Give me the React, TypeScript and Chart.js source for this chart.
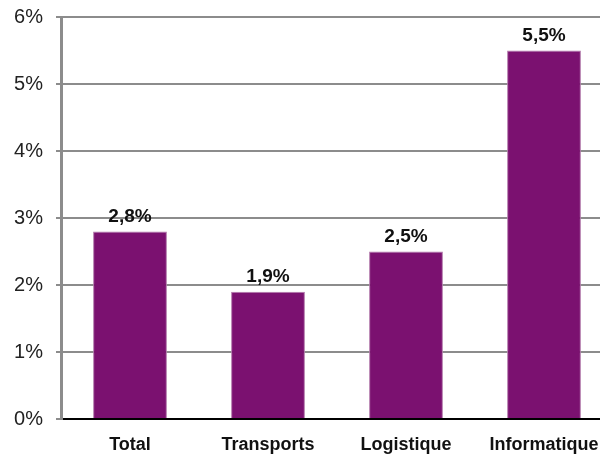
import React, { useEffect, useRef } from "react";
import { Chart, registerables } from "chart.js";

Chart.register(...registerables);

const categories = ["Total", "Transports", "Logistique", "Informatique"];
const values = [2.8, 1.9, 2.5, 5.5];
const yTicks = [0, 1, 2, 3, 4, 5, 6];

const FONT = '"Liberation Sans", Arial, sans-serif';

const valueLabels = {
  id: "valueLabels",
  afterDatasetsDraw(chart: any) {
    const ctx = chart.ctx;
    const meta = chart.getDatasetMeta(0);
    ctx.save();
    ctx.font = `bold 19px ${FONT}`;
    ctx.fillStyle = "#111111";
    ctx.textAlign = "center";
    ctx.textBaseline = "bottom";
    meta.data.forEach((bar: any, i: number) => {
      const v = values[i];
      const txt = v.toFixed(1).replace(".", ",") + "%";
      ctx.fillText(txt, bar.x, bar.y - 5);
    });
    ctx.restore();
  },
};

export default function App() {
  const ref = useRef<HTMLCanvasElement>(null);
  useEffect(() => {
    if (!ref.current) return;
    const chart = new Chart(ref.current, {
      type: "bar",
      data: {
        labels: categories,
        datasets: [
          {
            data: values,
            backgroundColor: "#7b1170",
            borderColor: "#b27aab",
            borderWidth: 1,
            barPercentage: 0.535,
            categoryPercentage: 1,
          },
        ],
      },
      options: {
        animation: false,
        responsive: false,
        maintainAspectRatio: false,
        layout: { padding: { top: 17, left: 13, right: 7, bottom: 0 } },
        plugins: { legend: { display: false }, tooltip: { enabled: false } },
        scales: {
          x: {
            grid: { display: false, drawTicks: false },
            border: { display: true, color: "#000000", width: 2 },
            ticks: {
              color: "#111111",
              font: { family: FONT, size: 18, weight: "bold" },
              padding: 15,
              maxRotation: 0,
            },
            afterFit: (s: any) => {
              s.height = 38;
              s.paddingLeft = 0;
              s.paddingRight = 0;
            },
          },
          y: {
            min: 0,
            max: 6,
            afterBuildTicks: (s: any) => {
              s.ticks = yTicks.map((v) => ({ value: v }));
            },
            grid: {
              color: "#8c8c8c",
              lineWidth: 2,
              tickLength: 5,
              drawTicks: true,
            },
            border: { display: true, color: "#8c8c8c", width: 3 },
            ticks: {
              color: "#222222",
              font: { family: FONT, size: 20 },
              padding: 13,
              callback: (v: any) => v + "%",
            },
            afterFit: (s: any) => {
              s.width = 48;
              s.paddingTop = 0;
              s.paddingBottom = 0;
            },
          },
        },
      },
      plugins: [valueLabels],
    });
    return () => chart.destroy();
  }, []);
  return (
    <div
      style={{
        position: "fixed",
        left: 0,
        top: 0,
        width: 600,
        height: 457,
        overflow: "hidden",
        background: "#ffffff",
      }}
    >
      <canvas ref={ref} width={620} height={457} style={{ display: "block" }} />
    </div>
  );
}
